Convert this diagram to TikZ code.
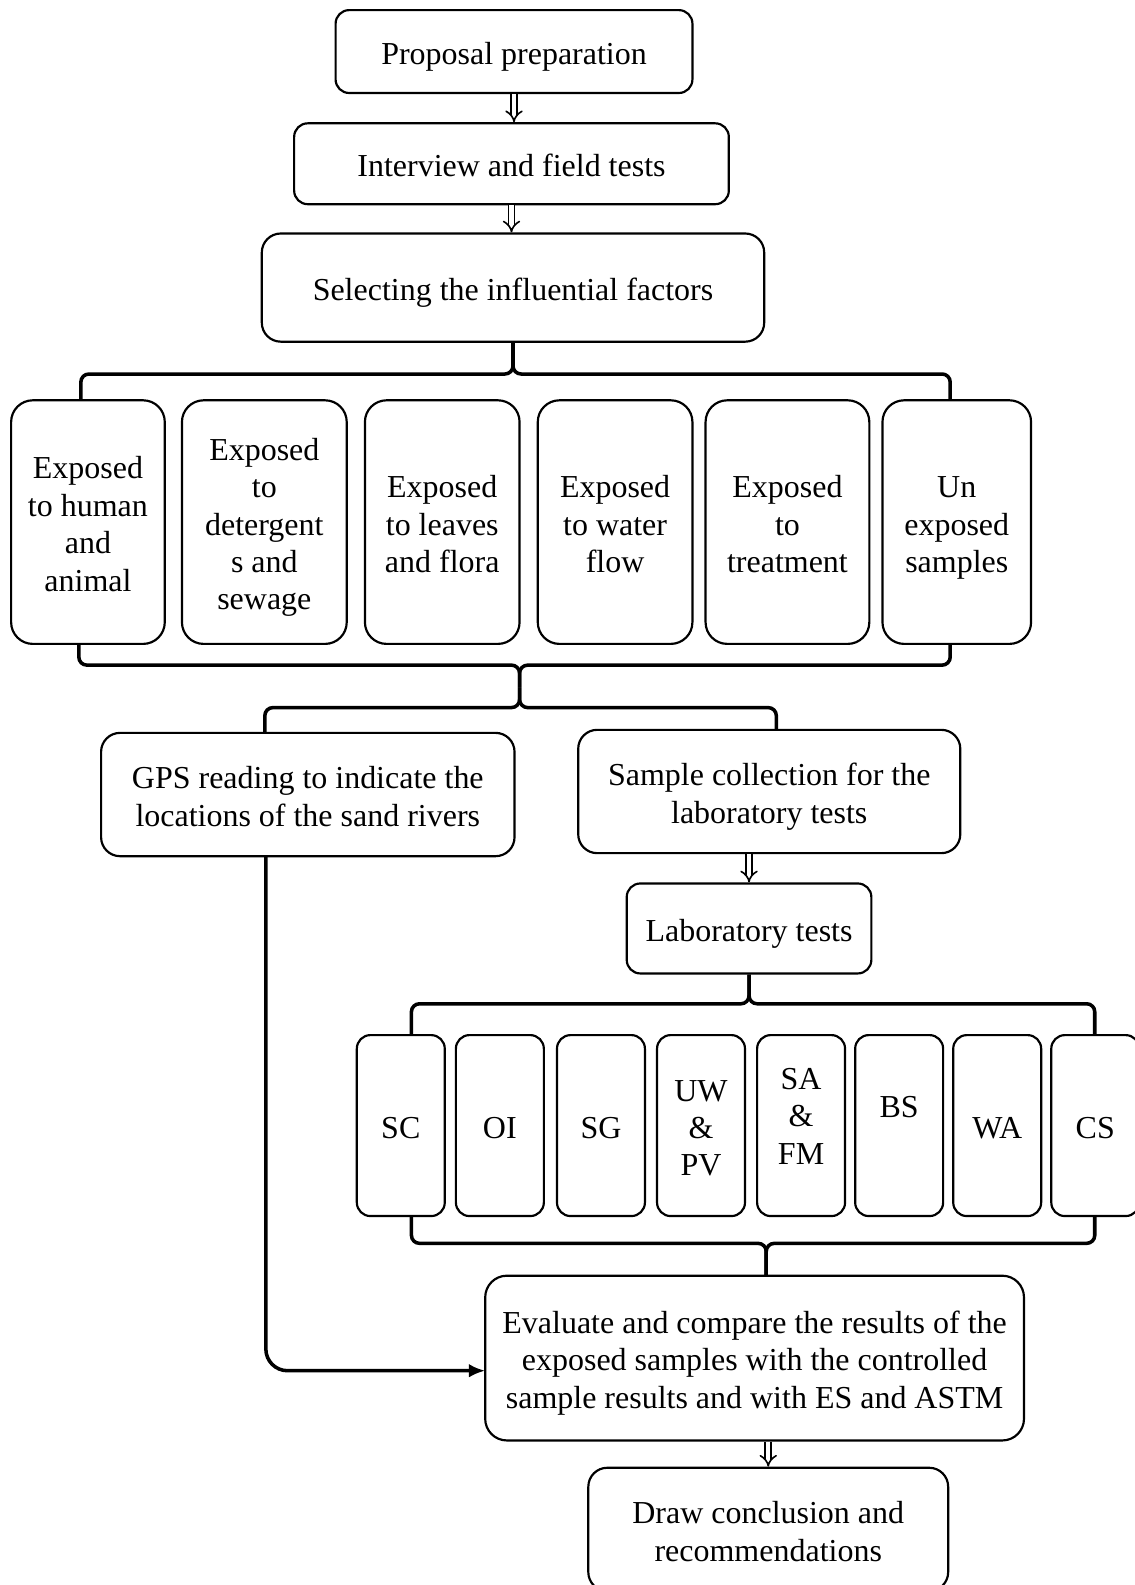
\documentclass[tikz,border=0pt]{standalone}
\usepackage{fontspec}
\setmainfont{Liberation Serif}
\usetikzlibrary{arrows.meta,positioning}
\newdimen\pxu \pxu=0.373pt
\newcommand\cell[1]{\begin{tabular}{@{}c@{}}\noalign{\vskip4pt}#1\end{tabular}}

\begin{document}
\begin{tikzpicture}[
  x=0.373pt,y=-0.373pt,
  stepbox/.style={draw,line width=0.8pt,rounded corners=5pt,
    inner sep=0pt,font=\fontsize{11.8}{13.8}\selectfont},
  factbox/.style={stepbox,rounded corners=8pt,minimum height=241\pxu},
  testbox/.style={stepbox,minimum width=87\pxu,minimum height=179\pxu},
  brace/.style={line width=1.3pt},
  dblarrow/.style={double,double distance=1.6pt,line width=0.6pt,-{Implies}},
  feed/.style={line width=1.3pt,rounded corners=8pt,-{Latex[length=6pt,width=5pt]}}
]
  \useasboundingbox (0,0) rectangle (1122,1568);
  % Top of the chain
  \node[stepbox,minimum width=353\pxu,minimum height=82\pxu] (prop) at (508.5,51) {\cell{Proposal preparation}};
  \node[stepbox,minimum width=430\pxu,minimum height=80\pxu] (intv) at (506,162) {\cell{Interview and field tests}};
  \node[stepbox,rounded corners=7pt,minimum width=497\pxu,minimum height=107\pxu] (sel) at (507.5,284.5) {\cell{Selecting the influential factors}};
  % Factors
  \node[factbox,minimum width=152\pxu] (f1) at (87,516.5) {\cell{Exposed\\to human\\and\\animal}};
  \node[factbox,minimum width=163\pxu] (f2) at (261.5,516.5) {\cell{Exposed\\to\\detergent\\s and\\sewage}};
  \node[factbox,minimum width=153\pxu] (f3) at (437.5,516.5) {\cell{Exposed\\to leaves\\and flora}};
  \node[factbox,minimum width=153\pxu] (f4) at (608.5,516.5) {\cell{Exposed\\to water\\flow}};
  \node[factbox,minimum width=162\pxu] (f5) at (779,516.5) {\cell{Exposed\\to\\treatment}};
  \node[factbox,minimum width=147\pxu] (f6) at (946.5,516.5) {\cell{Un\\exposed\\samples}};
  % Middle row
  \node[stepbox,rounded corners=7pt,minimum width=409\pxu,minimum height=122\pxu] (gps) at (304.5,786) {\cell{GPS reading to indicate the\\locations of the sand rivers}};
  \node[stepbox,rounded corners=7pt,minimum width=378\pxu,minimum height=122\pxu] (samp) at (761,783) {\cell{Sample collection for the\\laboratory tests}};
  \node[stepbox,minimum width=242\pxu,minimum height=89\pxu] (lab) at (741,918.5) {\cell{Laboratory tests}};
  % Tests
  \node[testbox] (sc) at (396.5,1113.5) {\cell{SC}};
  \node[testbox] (oi) at (494.5,1113.5) {\cell{OI}};
  \node[testbox] (sg) at (594.5,1113.5) {\cell{SG}};
  \node[testbox] (uw) at (693.5,1113.5) {\cell{UW\\\&\\PV}};
  \node[testbox] (sa) at (792.5,1113.5) {\cell{SA\\\&\\FM\\[-5.2pt]{}}};
  \node[testbox] (bs) at (889.5,1113.5) {\cell{BS\\[2pt]{}}};
  \node[testbox] (wa) at (986.5,1113.5) {\cell{WA}};
  \node[testbox] (cs) at (1083.5,1113.5) {\cell{CS}};
  % Bottom
  \node[stepbox,rounded corners=8pt,minimum width=533\pxu,minimum height=163\pxu] (eval) at (746.5,1343.5) {\cell{Evaluate and compare the results of the\\exposed samples with the controlled\\sample results and with ES and ASTM}};
  \node[stepbox,rounded corners=7pt,minimum width=356\pxu,minimum height=122\pxu] (concl) at (760,1513) {\cell{Draw conclusion and\\recommendations}};
  \coordinate (mid) at (514,680);
  \coordinate (gpsout) at (263,847);
  \coordinate (evalin) at (480,1356);
  % Double arrows
  \draw[dblarrow] (prop.south) -- (prop.south |- intv.north);
  \draw[dblarrow] (intv.south) -- (intv.south |- sel.north);
  \draw[dblarrow] (lab.north |- samp.south) -- (lab.north);
  \draw[dblarrow] (concl.north |- eval.south) -- (concl.north);
  % Brace over the factors
  \draw[brace] (80,396) -- (80,378) to[out=90,in=180] (88,370) -- (499.5,370) to[out=0,in=-90] (507.5,362) -- (sel.south);
  \draw[brace] (940,396) -- (940,378) to[out=90,in=0] (932,370) -- (515.5,370) to[out=180,in=-90] (507.5,362) -- (sel.south);
  % Brace under the factors
  \draw[brace] (78,637) -- (78,650) to[out=-90,in=180] (86,658) -- (506,658) to[out=0,in=90] (514,666) -- (mid);
  \draw[brace] (940,637) -- (940,650) to[out=-90,in=0] (932,658) -- (522,658) to[out=180,in=90] (514,666) -- (mid);
  % Split to GPS and sampling
  \draw[brace] (262,725) -- (262,708) to[out=90,in=180] (270,700) -- (506,700) to[out=0,in=-90] (514,692) -- (mid);
  \draw[brace] (768,722) -- (768,708) to[out=90,in=0] (760,700) -- (522,700) to[out=180,in=-90] (514,692) -- (mid);
  % Brace over the tests
  \draw[brace] (407,1024) -- (407,1001) to[out=90,in=180] (415,993) -- (733,993) to[out=0,in=-90] (741,985) -- (lab.south);
  \draw[brace] (1083,1024) -- (1083,1001) to[out=90,in=0] (1075,993) -- (749,993) to[out=180,in=-90] (741,985) -- (lab.south);
  % Brace under the tests
  \draw[brace] (407,1203) -- (407,1222) to[out=-90,in=180] (415,1230) -- (750,1230) to[out=0,in=90] (758,1238) -- (758,1262);
  \draw[brace] (1083,1203) -- (1083,1222) to[out=-90,in=0] (1075,1230) -- (766,1230) to[out=180,in=90] (758,1238) -- (758,1262);
  % GPS readings go to the evaluation
  \draw[feed] (gpsout) |- (evalin);
\end{tikzpicture}
\end{document}
